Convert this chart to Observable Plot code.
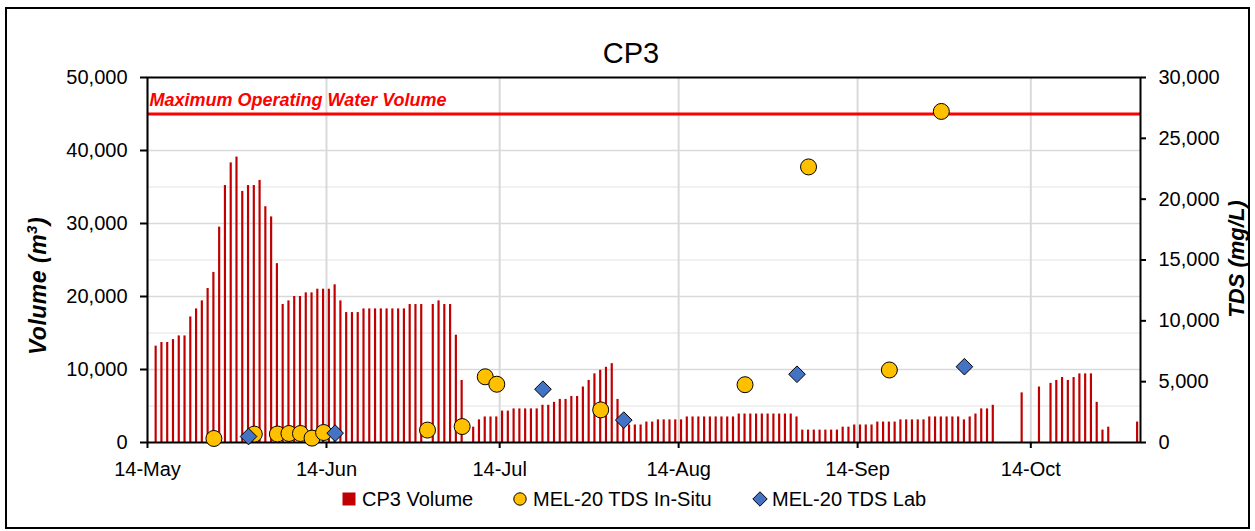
<!DOCTYPE html>
<html><head><meta charset="utf-8">
<script src="https://cdn.jsdelivr.net/npm/d3@7"></script>
<script src="https://cdn.jsdelivr.net/npm/@observablehq/plot@0.6"></script>
<style>
body{margin:0;background:#fff;font-family:"Liberation Sans",Arial,sans-serif;color:#000}
#wrap{position:relative;width:1255px;height:531px;overflow:hidden;background:#fff}
#chart{position:absolute;left:0;top:0}
.abs{position:absolute;white-space:nowrap}
#border{position:absolute;left:5px;top:7px;width:1245px;height:522px;box-sizing:border-box;border:2px solid #000}
#title{left:631px;top:39px;transform:translateX(-50%);font-size:29px;line-height:29px}
#ytitle{left:38px;top:286px;transform:translate(-50%,-50%) rotate(-90deg);font-size:23px;line-height:23px;font-weight:bold;font-style:italic;letter-spacing:0.5px}
#ytitle sup{font-size:15px;vertical-align:9px;line-height:0}
#y2title{left:1237px;top:259px;transform:translate(-50%,-50%) rotate(-90deg);font-size:22px;line-height:22px;font-weight:bold;font-style:italic}
.leg{font-size:20px;line-height:20px;top:489px}
</style></head><body>
<div id="wrap">
  <div id="border"></div>
  <div id="chart"></div>
  <div id="title" class="abs">CP3</div>
  <div id="ytitle" class="abs">Volume (m<sup>3</sup>)</div>
  <div id="y2title" class="abs">TDS (mg/L)</div>
  <div id="legend"></div>
</div>
<script>
// ---------- DATA ----------
const volumeStart = "2021-05-15";
// daily CP3 volume (m3), consecutive days from volumeStart; null = no bar
const volumes = [
  // May 15 - May 31
  13200, 13700, 13700, 14100, 14600, 14600, 17200, 18300, 19400, 21100, 23300, 29500, 35200, 38300, 39100, 34400, 35200,
  // Jun 1 - Jun 30
  35200, 35900, 32300, 30900, 24500, 18900, 19400, 20000, 20000, 20500, 20500, 21000, 21000, 21000, 21600, 19400, 17800, 17800, 17800,
  18300, 18300, 18300, 18300, 18300, 18300, 18300, 18300, 18900, 18900, 18900,
  // Jul 1 - Jul 31
  null, 18900, 19400, 18900, 18900, 14700, 8500, null, 2100, 3100, 3500, 3500, 3500, 4300, 4300, 4600, 4600, 4600, 4600, 4600,
  5100, 5100, 5500, 5900, 5900, 6300, 6300, 7600, 8500, 9400, 9900,
  // Aug 1 - Aug 31
  10300, 10800, 5900, 2600, 2400, 2400, 2400, 2800, 2800, 3100, 3100, 3100, 3100, 3100, 3500,
  3500, 3500, 3500, 3500, 3500, 3500, 3500, 3500,
  3900, 3900, 3900, 3900, 3900, 3900, 3900, 3900,
  // Sep 1 - Sep 30
  3900, 3900, 3500, 1700, 1700, 1700, 1700, 1700, 1700, 1700, 2100, 2100, 2400, 2400, 2400, 2400,
  2800, 2800, 2800, 2800, 3100, 3100, 3100, 3100, 3100, 3500, 3500, 3500, 3500, 3500,
  // Oct 1 - Oct 31
  3500, 3100, 3500, 3900, 4600, 4600, 5100, null, null, null, null, 6800, null, null, 7600, null,
  8100, 8500, 8900, 8500, 8900, 9400, 9400, 9400, 5500, 1700, 2100, null, null, null, null,
  // Nov 1
  2800
];

const insituDates = ["2021-05-25","2021-06-01","2021-06-05","2021-06-07","2021-06-09","2021-06-11","2021-06-13",
  "2021-07-01","2021-07-07","2021-07-11","2021-07-13","2021-07-31","2021-08-25","2021-09-05","2021-09-19","2021-09-28"];
const insituTDS = [330, 690, 700, 740, 740, 360, 820, 1020, 1310, 5400, 4790, 2680, 4750, 22650, 5960, 27210];

const labDates = ["2021-05-31","2021-06-15","2021-07-21","2021-08-04","2021-09-03","2021-10-02"];
const labTDS = [490, 770, 4380, 1840, 5610, 6230];

const maxVolume = 45000;
const maxLabel = "Maximum Operating Water Volume";

const xDomain = ["2021-05-14", "2021-11-02"];
const xTickDates = ["2021-05-14","2021-06-14","2021-07-14","2021-08-14","2021-09-14","2021-10-14"];
const yTicksLeft = [0, 10000, 20000, 30000, 40000, 50000];
const yGridMajor = [10000, 20000, 30000, 40000];
const yGridMinor = [5000, 15000, 25000, 35000, 45000];
const yTicksRight = [0, 5000, 10000, 15000, 20000, 25000, 30000];
const volMax = 50000, tdsMax = 30000;

const legendItems = ["CP3 Volume", "MEL-20 TDS In-Situ", "MEL-20 TDS Lab"];
const colors = {bar: "#C00000", insitu: "#FFC000", lab: "#4472C4", max: "#FF0000"};

// ---------- BUILD ----------
const parse = s => new Date(s + "T00:00:00Z");
const mid = d => new Date(+d + 12 * 3600 * 1000);
const t0 = parse(volumeStart);
const vol = volumes.map((v, i) => ({date: d3.utcDay.offset(t0, i), v})).filter(d => d.v != null);
const toVol = t => t * volMax / tdsMax;
const insitu = insituDates.map((s, i) => ({date: mid(parse(s)), tds: insituTDS[i]}));
const lab = labDates.map((s, i) => ({date: mid(parse(s)), tds: labTDS[i]}));
const fmt = d3.format(",");

const chart = Plot.plot({
  width: 1255, height: 531,
  marginLeft: 147, marginRight: 115, marginTop: 77, marginBottom: 89,
  x: {type: "utc", domain: xDomain.map(parse)},
  y: {domain: [0, volMax]},
  style: {fontFamily: '"Liberation Sans", Arial, sans-serif', fontSize: "20px", background: "transparent", overflow: "visible", color: "#000"},
  marks: [
    Plot.gridY(yGridMinor, {stroke: "#ececec", strokeOpacity: 1, strokeWidth: 1.5}),
    Plot.gridY(yGridMajor, {stroke: "#d9d9d9", strokeOpacity: 1, strokeWidth: 1.5}),
    Plot.gridX(xTickDates.map(parse), {stroke: "#d9d9d9", strokeOpacity: 1, strokeWidth: 2}),
    Plot.rectY(vol, {x: "date", y: "v", interval: d3.utcDay, fill: colors.bar, insetLeft: 1.8, insetRight: 1.8}),
    Plot.ruleY([maxVolume], {stroke: colors.max, strokeWidth: 3}),
    Plot.text([maxLabel], {x: () => parse(xDomain[0]), y: () => maxVolume, text: d => d, textAnchor: "start", lineAnchor: "bottom",
      dx: 2, dy: -8, fill: colors.max, fontWeight: "bold", fontStyle: "italic", fontSize: 18}),
    Plot.frame({stroke: "#000", strokeWidth: 2}),
    Plot.axisY({anchor: "left", ticks: yTicksLeft, tickFormat: fmt, tickSize: 7, tickPadding: 13, strokeWidth: 2, label: null, fontSize: 20}),
    Plot.axisY({anchor: "right", ticks: yTicksRight.map(toVol), tickFormat: d => fmt(Math.round(d * tdsMax / volMax)), tickSize: 5, tickPadding: 13, strokeWidth: 2, label: null, fontSize: 20}),
    Plot.axisX({ticks: xTickDates.map(parse), tickFormat: d3.utcFormat("%d-%b"), tickSize: 6, tickPadding: 13, strokeWidth: 2, label: null, fontSize: 20}),
    Plot.dot(insitu, {x: "date", y: d => toVol(d.tds), r: 8, symbol: "circle", fill: colors.insitu, stroke: "#000", strokeWidth: 1}),
    Plot.dot(lab, {x: "date", y: d => toVol(d.tds), r: 7.5, symbol: "diamond2", fill: colors.lab, stroke: "#000", strokeWidth: 1})
  ]
});
document.getElementById("chart").appendChild(chart);

// legend
const leg = document.getElementById("legend");
const legPos = [{sym: 342, txt: 362}, {sym: 513, txt: 533}, {sym: 752, txt: 772}];
const symSvg = [
  `<svg width="14" height="14"><rect x="0.5" y="0.5" width="13" height="13" fill="${colors.bar}"/></svg>`,
  `<svg width="14" height="14"><circle cx="7" cy="7" r="6.2" fill="${colors.insitu}" stroke="#000" stroke-width="1"/></svg>`,
  `<svg width="16" height="16"><path d="M8,0.8L15.2,8L8,15.2L0.8,8Z" fill="${colors.lab}" stroke="#000" stroke-width="1"/></svg>`
];
legendItems.forEach((name, i) => {
  const s = document.createElement("div");
  s.className = "abs";
  s.style.left = legPos[i].sym + "px";
  s.style.top = (i === 2 ? 491 : 492) + "px";
  s.innerHTML = symSvg[i];
  leg.appendChild(s);
  const t = document.createElement("div");
  t.className = "abs leg";
  t.style.left = legPos[i].txt + "px";
  t.textContent = name;
  leg.appendChild(t);
});
</script>
</body></html>
